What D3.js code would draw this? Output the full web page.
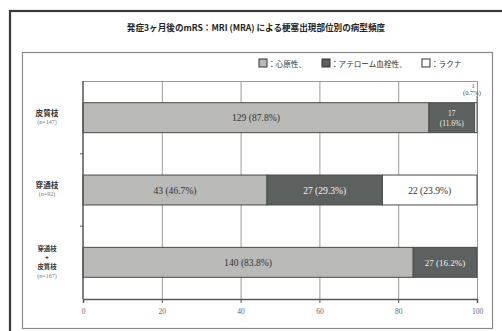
<!DOCTYPE html>
<html>
<head>
<meta charset="utf-8">
<script src="https://cdn.jsdelivr.net/npm/d3@7"></script>
<style>
  html, body { margin: 0; padding: 0; background: #fff; }
  svg { display: block; }
</style>
</head>
<body>
<svg id="chart" width="502" height="331"></svg>
<script>
// Infarct-site groups and subtype counts
const categories = ["皮質枝", "穿通枝", "穿通枝\n+\n皮質枝"];
const groupSizes = [147, 92, 167];
const series = ["心原性", "アテローム血栓性", "ラクナ"];
const cardioCounts = [129, 43, 140];
const atheroCounts = [17, 27, 27];
const lacunarCounts = [1, 22, 0];
const cardioPct = [87.8, 46.7, 83.8];
const atheroPct = [11.6, 29.3, 16.2];
const lacunarPct = [0.7, 23.9, 0];
const xTicks = [0, 20, 40, 60, 80, 100];

const colors = ["#b9b9b7", "#5c605e", "#ffffff"];
const svg = d3.select("#chart");
const JP = "'Noto Sans CJK JP', sans-serif";
const SERIF = "'Liberation Serif', 'DejaVu Serif', serif";

// frames
svg.append("rect").attr("x", 10).attr("y", 11).attr("width", 500).attr("height", 330)
  .attr("fill", "none").attr("stroke", "#3a3a3a").attr("stroke-width", 2.2);
svg.append("rect").attr("x", 22.5).attr("y", 52.5).attr("width", 470).attr("height", 276)
  .attr("fill", "none").attr("stroke", "#8a8a8a").attr("stroke-width", 1.2);

// title
svg.append("text").attr("x", 256).attr("y", 31).attr("text-anchor", "middle")
  .attr("font-family", JP).attr("font-size", 8.6).attr("font-weight", "bold").attr("fill", "#222")
  .text("発症3ヶ月後のmRS：MRI (MRA) による梗塞出現部位別の病型頻度");

// legend
const lg = svg.append("g").attr("font-family", JP).attr("font-size", 7.6).attr("fill", "#333");
const legendItems = [
  { x: 259, label: "：心原性、" },
  { x: 322, label: "：アテローム血栓性、" },
  { x: 422, label: "：ラクナ" }
];
legendItems.forEach((d, i) => {
  lg.append("rect").attr("x", d.x).attr("y", 59).attr("width", 8).attr("height", 8)
    .attr("fill", colors[i]).attr("stroke", "#333").attr("stroke-width", 1);
  lg.append("text").attr("x", d.x + 9).attr("y", 66.5).text(d.label);
});

// scales
const margin = { left: 83, right: 477, top: 81, bottom: 299 };
const x = d3.scaleLinear().domain([0, 100]).range([margin.left, margin.right]);
const y = d3.scaleBand().domain(d3.range(categories.length))
  .range([margin.top, margin.bottom]).paddingInner(0.586).paddingOuter(0.3);

// gridlines
svg.append("g").selectAll("line").data(xTicks.slice(1)).join("line")
  .attr("x1", d => x(d) + 0.5).attr("x2", d => x(d) + 0.5)
  .attr("y1", margin.top).attr("y2", margin.bottom)
  .attr("stroke", "#9a9a9a").attr("stroke-width", 1);
svg.append("line").attr("x1", margin.left).attr("x2", margin.right)
  .attr("y1", margin.top + 0.5).attr("y2", margin.top + 0.5)
  .attr("stroke", "#9a9a9a");

// stacked bars
const rows = categories.map((c, i) => ({
  i,
  segs: [
    { s: 0, v: cardioPct[i], n: cardioCounts[i] },
    { s: 1, v: atheroPct[i], n: atheroCounts[i] },
    { s: 2, v: lacunarPct[i], n: lacunarCounts[i] }
  ]
}));
rows.forEach(r => {
  let acc = 0;
  r.segs.forEach(sg => { sg.x0 = acc; acc += sg.v; sg.x1 = acc; });
  // absorb rounding so each bar spans the full 100%
  r.segs.filter(sg => sg.v > 0).slice(-1)[0].x1 = 100;
});

const bars = svg.append("g");
rows.forEach(r => {
  r.segs.filter(sg => sg.v > 0).forEach(sg => {
    bars.append("rect")
      .attr("x", x(sg.x0)).attr("y", y(r.i))
      .attr("width", x(sg.x1) - x(sg.x0)).attr("height", y.bandwidth())
      .attr("fill", colors[sg.s]).attr("stroke", "#4a4a4a").attr("stroke-width", 1);
  });
});

// segment labels
const lbl = svg.append("g").attr("font-family", SERIF).attr("font-size", 9.6).attr("text-anchor", "middle");
rows.forEach(r => {
  const cy = y(r.i) + y.bandwidth() / 2;
  r.segs.filter(sg => sg.v > 0).forEach(sg => {
    const cx = (x(sg.x0) + x(sg.x1)) / 2;
    const fill = sg.s === 1 ? "#f2f2f2" : "#333";
    const w = x(sg.x1) - x(sg.x0);
    if (w > 70) {
      lbl.append("text").attr("x", cx).attr("y", cy + 3.5).attr("fill", fill)
        .text(`${sg.n} (${sg.v}%)`);
    } else if (w > 55) {
      lbl.append("text").attr("x", cx).attr("y", cy + 3.5).attr("fill", fill).attr("font-size", 9)
        .text(`${sg.n} (${sg.v}%)`);
    } else if (w > 20) {
      lbl.append("text").attr("x", cx).attr("y", cy - 2).attr("fill", fill).attr("font-size", 7.5)
        .text(sg.n);
      lbl.append("text").attr("x", cx).attr("y", cy + 8).attr("fill", fill).attr("font-size", 7.5)
        .text(`(${sg.v}%)`);
    } else {
      // too thin: label placed above the bar end
      const ax = x(sg.x1);
      lbl.append("text").attr("x", ax - 4).attr("y", y(r.i) - 15).attr("fill", "#444").attr("font-size", 6.5)
        .text(sg.n);
      lbl.append("text").attr("x", ax - 5).attr("y", y(r.i) - 8).attr("fill", "#444").attr("font-size", 6.5)
        .text(`(${sg.v}%)`);
      lbl.append("line").attr("x1", ax).attr("x2", ax).attr("y1", y(r.i) - 7).attr("y2", y(r.i))
        .attr("stroke", "#666").attr("stroke-width", 0.8);
    }
  });
});

// x axis
const xAxis = svg.append("g").attr("transform", `translate(0,${margin.bottom})`)
  .call(d3.axisBottom(x).tickValues(xTicks).tickSize(4).tickPadding(6));
xAxis.select(".domain").attr("stroke", "#555").attr("stroke-width", 1.5);
xAxis.selectAll(".tick line").attr("stroke", "#555");
xAxis.selectAll(".tick text").attr("font-family", SERIF).attr("font-size", 7.5).attr("fill", "#666");

// y axis with ticks at band boundaries
svg.append("line").attr("x1", margin.left).attr("x2", margin.left)
  .attr("y1", margin.top).attr("y2", margin.bottom).attr("stroke", "#555").attr("stroke-width", 1.5);
const boundaries = d3.range(1, categories.length).map(i => y(i) - y.step() * y.paddingInner() / 2);
svg.append("g").selectAll("line").data(boundaries).join("line")
  .attr("x1", margin.left - 3).attr("x2", margin.left)
  .attr("y1", d => d).attr("y2", d => d).attr("stroke", "#555");

// category labels
const cl = svg.append("g").attr("text-anchor", "middle");
categories.forEach((c, i) => {
  const lines = c.split("\n");
  const cy = y(i) + y.bandwidth() / 2;
  const lh = lines.length > 1 ? 9.3 : 9;
  const fs = lines.length > 1 ? 6.4 : 7.6;
  const total = lines.length + 1;
  const startY = cy - (total - 1) * lh / 2;
  lines.forEach((t, k) => {
    cl.append("text").attr("x", 47).attr("y", startY + k * lh + 2.5)
      .attr("font-family", JP).attr("font-size", fs)
      .attr("font-weight", "bold").attr("fill", "#333")
      .text(t);
  });
  cl.append("text").attr("x", 47).attr("y", startY + lines.length * lh + 1.5)
    .attr("font-family", SERIF).attr("font-size", 6).attr("fill", "#777")
    .text(`(n=${groupSizes[i]})`);
});
</script>
</body>
</html>
